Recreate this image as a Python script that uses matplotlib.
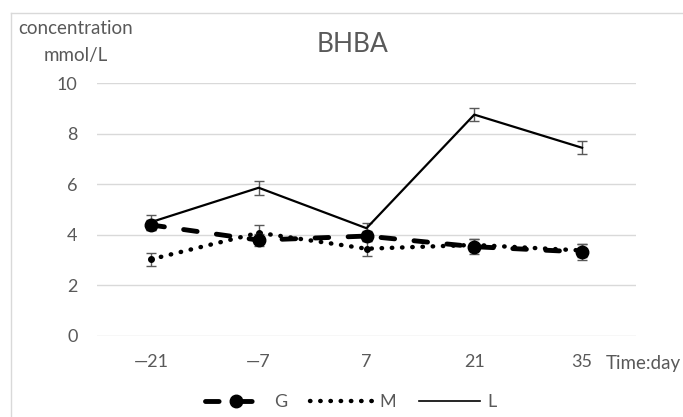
import matplotlib
matplotlib.use("Agg")
import matplotlib.pyplot as plt
from matplotlib.lines import Line2D
import numpy as np

plt.rcParams['font.family'] = ['Lato', 'DejaVu Sans']

days = ["\u201421", "\u20147", "7", "21", "35"]
g_vals = [4.39, 3.79, 3.95, 3.53, 3.32]
g_err = [0.2, 0.25, 0.2, 0.3, 0.3]
m_vals = [3.03, 4.08, 3.45, 3.60, 3.38]
m_err = [0.26, 0.3, 0.3, 0.25, 0.25]
l_vals = [4.50, 5.86, 4.26, 8.75, 7.44]
l_err = [0.3, 0.27, 0.22, 0.26, 0.26]
yticks = [0, 2, 4, 6, 8, 10]

grey = "#595959"
x = np.arange(len(days))

W, H = 683, 417
fig = plt.figure(figsize=(W / 100, H / 100), dpi=100)
ax = fig.add_axes([97 / W, 1 - 336 / H, 539 / W, 253 / H])

# chart border (light grey frame, runs off the right and bottom edge)
fig.add_artist(Line2D([11 / W, 11 / W], [0, 1 - 13 / H], color="#d9d9d9", lw=1))
fig.add_artist(Line2D([11 / W, 1], [1 - 13 / H, 1 - 13 / H], color="#d9d9d9", lw=1))

ebar = dict(ecolor=grey, elinewidth=1, capsize=3.5, capthick=1)
g_ls = (0, (2.8, 4.0))
m_ls = (0, (0.1, 2.2))

ax.errorbar(x, l_vals, yerr=l_err, color="black", lw=1.6, zorder=3, **ebar)
ax.errorbar(x, m_vals, yerr=m_err, color="black", lw=3.2, ls=m_ls,
            dash_capstyle="round", marker="o", ms=4, zorder=4, **ebar)
ax.errorbar(x, g_vals, yerr=g_err, color="black", lw=3.5, ls=g_ls,
            dash_capstyle="round", marker="o", ms=9, zorder=5, **ebar)

ax.set_xlim(-0.5, len(days) - 0.5)
ax.set_ylim(0, 10)
ax.set_yticks(yticks)
ax.set_xticks(x)
ax.set_xticklabels(days)
ax.yaxis.grid(True, color="#d9d9d9", lw=1)
ax.set_axisbelow(True)
for s in ax.spines.values():
    s.set_visible(False)
ax.tick_params(length=0, colors=grey, labelsize=13)
ax.tick_params(axis="y", pad=14)
ax.tick_params(axis="x", pad=13)

fig.text(353 / W, 1 - 45 / H, "BHBA", ha="center", va="center", fontsize=19, color=grey)
fig.text(76 / W, 1 - 29 / H, "concentration", ha="center", va="center", fontsize=13.5, color=grey)
fig.text(76 / W, 1 - 56 / H, "mmol/L", ha="center", va="center", fontsize=13.5, color=grey)
fig.text(606 / W, 1 - 364 / H, "Time:day", ha="left", va="center", fontsize=13.5, color=grey)

handles = [
    Line2D([], [], color="black", lw=3.5, ls=g_ls, dash_capstyle="round",
           marker="o", ms=9),
    Line2D([], [], color="black", lw=3.2, ls=m_ls, dash_capstyle="round"),
    Line2D([], [], color="black", lw=1.2),
]
fig.legend(handles, ["G", "M", "L"], loc="center", bbox_to_anchor=(351 / W, 1 - 402 / H),
           ncol=3, frameon=False, fontsize=13, labelcolor=grey, handlelength=3.4,
           columnspacing=1.3, handletextpad=0.4, borderpad=0)

fig.savefig("out.png", dpi=100)
